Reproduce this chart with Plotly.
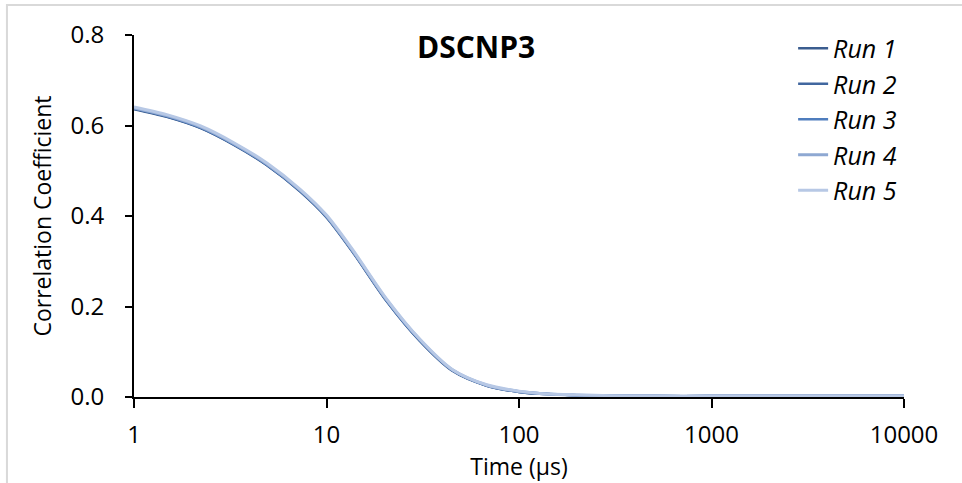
import plotly.graph_objects as go

time_us = [1, 1.48, 2.22, 3.3, 4.9, 7.3, 10, 13.7, 20.5, 30.5, 45, 68, 100, 128, 200, 300, 500, 1000, 2000, 5000, 10000]

run1 = [0.636, 0.619, 0.594, 0.557, 0.512, 0.454, 0.397, 0.320, 0.212, 0.124, 0.058, 0.025, 0.011, 0.007, 0.004, 0.003, 0.002, 0.002, 0.002, 0.002, 0.002]
run2 = [0.637, 0.620, 0.595, 0.558, 0.513, 0.455, 0.398, 0.321, 0.213, 0.125, 0.059, 0.025, 0.011, 0.007, 0.004, 0.003, 0.002, 0.002, 0.002, 0.002, 0.002]
run3 = [0.638, 0.621, 0.596, 0.559, 0.514, 0.456, 0.399, 0.322, 0.214, 0.126, 0.060, 0.026, 0.012, 0.008, 0.004, 0.003, 0.002, 0.002, 0.002, 0.002, 0.002]
run4 = [0.639, 0.622, 0.597, 0.560, 0.515, 0.457, 0.400, 0.323, 0.215, 0.127, 0.060, 0.026, 0.012, 0.008, 0.004, 0.003, 0.002, 0.002, 0.002, 0.002, 0.002]
run5 = [0.641, 0.624, 0.599, 0.562, 0.517, 0.459, 0.402, 0.325, 0.217, 0.128, 0.061, 0.027, 0.013, 0.008, 0.005, 0.003, 0.002, 0.002, 0.002, 0.002, 0.002]

run_names = ["Run 1", "Run 2", "Run 3", "Run 4", "Run 5"]
run_values = [run1, run2, run3, run4, run5]
run_colors = ["#3b5d8f", "#41679f", "#4f7dbd", "#8ea8d2", "#b7c8e5"]

y_ticks = [0.0, 0.2, 0.4, 0.6, 0.8]
x_ticks = [1, 10, 100, 1000, 10000]
x_tick_labels = ["1", "10", "100", "1000", "10000"]

fig = go.Figure()
for i, (name, vals, col) in enumerate(zip(run_names, run_values, run_colors)):
    fig.add_trace(go.Scatter(
        x=time_us, y=vals, mode="lines", name=name,
        line=dict(color=col, width=3 if i >= 3 else 2.5, shape="spline", smoothing=0.8),
        legendgroup=name,
    ))

font_family = "Open Sans, DejaVu Sans, sans-serif"

fig.update_layout(
    width=962, height=483,
    margin=dict(l=134, r=58, t=35, b=86),
    paper_bgcolor="white", plot_bgcolor="white",
    font=dict(family=font_family, color="#000000", size=24),
    showlegend=True,
    legend=dict(
        x=0.856, y=1.026, xanchor="left", yanchor="top",
        font=dict(family=font_family, size=25, style="italic"),
        traceorder="grouped", tracegroupgap=0,
        bgcolor="rgba(0,0,0,0)", itemwidth=30,
    ),
    annotations=[dict(
        text="<b>DSCNP3</b>", x=0.444, y=0.967, xref="paper", yref="paper",
        xanchor="center", yanchor="middle", showarrow=False,
        font=dict(family=font_family, size=30, color="#000000"),
    )],
    shapes=[dict(
        type="rect", xref="paper", yref="paper",
        x0=-0.165, x1=1.2, y0=-0.4, y1=1.083,
        line=dict(color="#d9d9d9", width=2), fillcolor="rgba(0,0,0,0)", layer="below",
    )],
)

fig.update_xaxes(
    type="log", range=[0, 4],
    tickvals=x_ticks, ticktext=x_tick_labels,
    showgrid=False, zeroline=False,
    showline=True, linecolor="#000000", linewidth=2,
    ticks="outside", ticklen=9, tickwidth=2, tickcolor="#000000",
    ticklabelstandoff=6,
    tickfont=dict(size=24),
    title=dict(text="Time (µs)", font=dict(size=23), standoff=0),
)
fig.update_yaxes(
    range=[0, 0.8], tickvals=y_ticks, tickformat=".1f",
    showgrid=False, zeroline=False,
    showline=True, linecolor="#000000", linewidth=2,
    ticks="outside", ticklen=7, tickwidth=2, tickcolor="#000000",
    ticklabelstandoff=16,
    tickfont=dict(size=24),
    title=dict(text="Correlation Coefficient", font=dict(size=23), standoff=12),
)

fig.write_html("out.html")
